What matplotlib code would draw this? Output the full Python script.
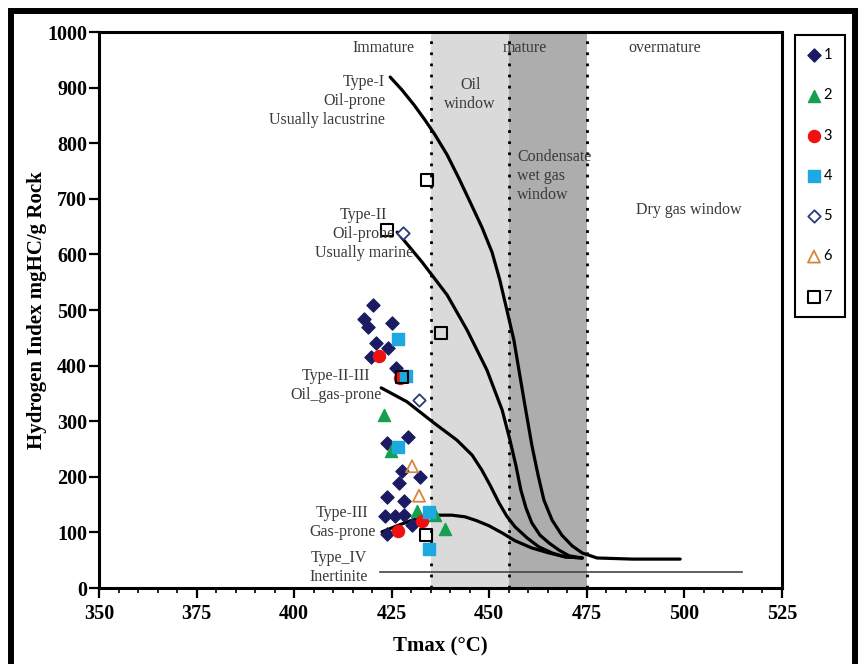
import matplotlib
matplotlib.use('Agg')
import matplotlib.pyplot as plt
from matplotlib.patches import Rectangle
from matplotlib.ticker import MultipleLocator

# kerogen type guide curves (Tmax, HI)
type1_t = [424.6, 427.6, 430.7, 433.5, 436.1, 439.2, 442.2, 445.1, 448.1, 450.7, 452.7, 456.3, 458.9, 460.9, 462.5, 464.0, 466.1, 468.6, 471.2, 473.8, 477.6, 486.6, 498.9]
type1_hi = [919, 896, 869, 842, 815, 779, 737, 694, 649, 604, 554, 446, 338, 257, 203, 158, 122, 95, 76, 63, 54, 52, 52]
type2_t = [426.4, 432.8, 439.2, 444.3, 449.4, 453.3, 455.3, 456.8, 458.1, 459.4, 460.9, 463.0, 465.3, 467.9, 470.4, 473.8]
type2_hi = [640, 586, 527, 464, 392, 320, 266, 221, 176, 144, 117, 95, 81, 68, 58, 54]
type23_t = [422.3, 428.9, 435.8, 441.7, 445.6, 448.1, 450.2, 452.5, 454.5, 456.6, 459.7, 462.7, 466.1, 469.4, 473.8]
type23_hi = [360, 335, 297, 266, 239, 212, 185, 153, 129, 110, 90, 74, 63, 56, 54]
type3_t = [422.5, 426.4, 430.2, 434.0, 436.6, 440.4, 443.8, 446.8, 449.9, 453.3, 456.6, 460.9, 465.3, 469.4, 473.8]
type3_hi = [101, 112, 122, 129, 131, 131, 128, 121, 112, 99, 85, 72, 63, 56, 54]
type4_t = [422.0, 514.7]
type4_hi = [29, 29]

# maturity zone limits
oil_window = [435, 455]
wet_gas_window = [455, 475]

# samples
s1_t = [420.1, 417.8, 418.9, 425.2, 421.0, 424.0, 419.8, 426.1, 429.2, 423.8, 427.6, 432.3, 426.9, 423.8, 428.1, 423.4, 425.9, 428.1, 430.2, 423.8]
s1_hi = [509, 483, 470, 476, 441, 431, 415, 395, 272, 261, 211, 200, 188, 164, 156, 129, 129, 131, 113, 98]
s2_t = [422.9, 424.9, 431.5, 436.2, 438.6]
s2_hi = [311, 247, 138, 131, 106]
s3_t = [421.7, 427.1, 426.7, 432.8]
s3_hi = [417, 378, 102, 120]
s4_t = [426.6, 428.7, 426.6, 434.6, 434.6]
s4_hi = [447, 381, 253, 137, 71]
s5_t = [428.0, 432.1]
s5_hi = [639, 339]
s6_t = [430.2, 432.0]
s6_hi = [219, 166]
s7_t = [423.8, 434.0, 437.7, 427.6, 433.9]
s7_hi = [644, 733, 459, 379, 95]

serif = 'Liberation Serif'
txt = '#3a3a3a'

fig = plt.figure(figsize=(8.6, 6.64), dpi=100)
ax = fig.add_axes([99/860, 1-588/664, (782-99)/860, (588-32)/664])

# shaded windows and dotted limits
ax.axvspan(oil_window[0], oil_window[1], color='#dadada', zorder=0, lw=0)
ax.axvspan(wet_gas_window[0], wet_gas_window[1], color='#adadad', zorder=0, lw=0)
for x in [435, 455, 475]:
    ax.axvline(x, color='black', ls=(0, (1, 3)), lw=2, zorder=1)

# guide curves
for t, hi in [(type1_t, type1_hi), (type2_t, type2_hi), (type23_t, type23_hi), (type3_t, type3_hi)]:
    ax.plot(t, hi, color='black', lw=2.3, solid_capstyle='round', solid_joinstyle='round', zorder=2)
ax.plot(type4_t, type4_hi, color='#444444', lw=1.2, zorder=2)

# samples
h1 = ax.scatter(s1_t, s1_hi, marker='D', s=44, color='#1b1b63', zorder=3, label='1')
h2 = ax.scatter(s2_t, s2_hi, marker='^', s=75, color='#14a050', zorder=3, label='2')
h3 = ax.scatter(s3_t, s3_hi, marker='o', s=75, color='#f01010', zorder=3, label='3')
h4 = ax.scatter(s4_t, s4_hi, marker='s', s=75, color='#1ea8e0', zorder=3, label='4')
h5 = ax.scatter(s5_t, s5_hi, marker='D', s=40, facecolor='white', edgecolor='#2c3a78', lw=1.3, zorder=4, label='5')
h6 = ax.scatter(s6_t, s6_hi, marker='^', s=75, facecolor='none', edgecolor='#d8863c', lw=1.3, zorder=4, label='6')
h7 = ax.scatter(s7_t, s7_hi, marker='s', s=75, facecolor='none', edgecolor='black', lw=1.5, zorder=5, label='7')

# zone labels
kw = dict(fontfamily=serif, fontsize=11.5, color=txt, zorder=6, linespacing=1.25)
ax.text(422.9, 971, 'Immature', ha='center', va='center', **kw)
ax.text(459.2, 971, 'mature', ha='center', va='center', **kw)
ax.text(495.0, 971, 'overmature', ha='center', va='center', **kw)
ax.text(445.1, 888, 'Oil\nwindow', ha='center', va='center', **kw)
ax.text(457.1, 741, 'Condensate\nwet gas\nwindow', ha='left', va='center', **kw)
ax.text(501.1, 680, 'Dry gas window', ha='center', va='center', **kw)
ax.text(423.3, 876, 'Type-I\nOil-prone\nUsually lacustrine', ha='right', va='center', multialignment='right', **kw)
ax.text(417.8, 636, 'Type-II\nOil-prone\nUsually marine', ha='center', va='center', **kw)
ax.text(410.7, 364, 'Type-II-III\nOil_gas-prone', ha='center', va='center', **kw)
ax.text(412.3, 118, 'Type-III\nGas-prone', ha='center', va='center', **kw)
ax.text(411.5, 36, 'Type_IV\nInertinite', ha='center', va='center', **kw)

ax.set_xlim(350, 525)
ax.set_ylim(0, 1000)
ax.xaxis.set_major_locator(MultipleLocator(25))
ax.xaxis.set_minor_locator(MultipleLocator(5))
ax.yaxis.set_major_locator(MultipleLocator(100))
ax.tick_params(axis='both', which='major', direction='out', length=7.5, width=1.6)
ax.tick_params(axis='x', which='minor', direction='out', length=3.5, width=1.2)
ax.tick_params(axis='x', pad=4)
ax.tick_params(axis='y', pad=1)
for lab in ax.get_xticklabels() + ax.get_yticklabels():
    lab.set_fontfamily(serif)
    lab.set_fontweight('bold')
    lab.set_fontsize(14.5)
for sp in ax.spines.values():
    sp.set_linewidth(2.2)

ax.set_xlabel('Tmax (°C)', fontfamily=serif, fontweight='bold', fontsize=15, labelpad=9)
ax.set_ylabel('Hydrogen Index mgHC/g Rock', fontfamily=serif, fontweight='bold', fontsize=15, labelpad=0)

leg = ax.legend(handles=[h1, h2, h3, h4, h5, h6, h7], loc='upper left',
                bbox_to_anchor=(795/860, 1-35/664), bbox_transform=fig.transFigure,
                frameon=True, fancybox=False, edgecolor='black', framealpha=1,
                prop={'family': 'Lato', 'size': 10.5}, labelspacing=1.8,
                handlelength=0.8, handletextpad=0.25, borderpad=0.9, borderaxespad=0)
leg.get_frame().set_linewidth(1.5)

# outer frame
fig.add_artist(Rectangle((11/860, -0.1), (855-11)/860, 1.1-11/664, transform=fig.transFigure,
                         fill=False, lw=4.3, edgecolor='black', clip_on=False))

plt.savefig('out.png', dpi=100)
plt.close()
